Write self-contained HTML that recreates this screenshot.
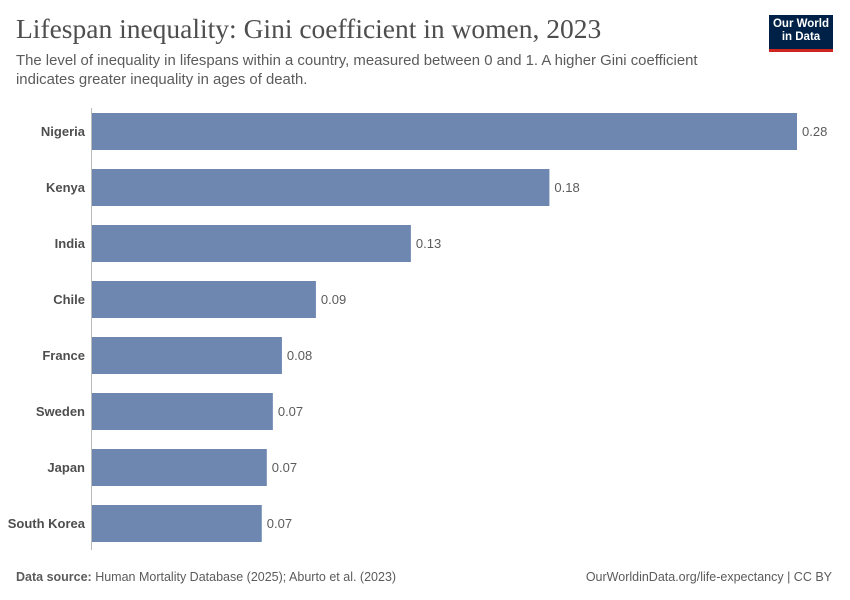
<!DOCTYPE html>
<html><head><meta charset="utf-8"><style>
body{margin:0;width:850px;height:600px;background:#fff;font-family:"Liberation Sans",sans-serif;position:relative;overflow:hidden}
.t{position:absolute;left:16px;top:13px;font-family:"Liberation Serif",serif;font-size:27.5px;color:#4e4e4e}
.s{position:absolute;left:16px;top:52px;font-size:14.9px;color:#5b5b5b;line-height:19px;width:720px}
.logo{position:absolute;left:769px;top:15px;width:64px;height:37px;background:#002147;border-bottom:3px solid #ce261e;color:#fff;font-size:11.5px;font-weight:bold;text-align:center;line-height:13px;padding-top:3px;box-sizing:border-box}
.f{position:absolute;top:570px;font-size:12.5px;color:#5b5b5b}
</style></head><body>
<div class="t">Lifespan inequality: Gini coefficient in women, 2023</div>
<div class="s">The level of inequality in lifespans within a country, measured between 0 and 1. A higher Gini coefficient indicates greater inequality in ages of death.</div>
<div class="logo">Our World<br>in Data</div>
<svg id="c" width="850" height="600" style="position:absolute;left:0;top:0"></svg>
<div class="f" style="left:16px"><b>Data source:</b> Human Mortality Database (2025); Aburto et al. (2023)</div>
<div class="f" style="right:18px">OurWorldinData.org/life-expectancy | CC BY</div>
<script>
const countries=["Nigeria","Kenya","India","Chile","France","Sweden","Japan","South Korea"];
const values=[0.2803,0.182,0.127,0.0893,0.0758,0.0722,0.0698,0.0678];
const labels=["0.28","0.18","0.13","0.09","0.08","0.07","0.07","0.07"];
const svg=document.getElementById('c');const NS="http://www.w3.org/2000/svg";
const x0=91,x1=797,maxV=0.2803;
const xs=v=>x0+(x1-x0)*v/maxV;
const ys=i=>113+56*i;
function mk(t,a){const e=document.createElementNS(NS,t);for(const k in a)e.setAttribute(k,a[k]);svg.appendChild(e);return e;}
countries.forEach((c,i)=>{
const r=mk('rect',{x:x0,y:ys(i),width:xs(values[i])-x0,height:37,fill:'#6d87b1'});


const l=mk('text',{x:85,y:ys(i)+23,'text-anchor':'end','font-size':13,'font-weight':'bold',fill:'#4e4e4e'});l.textContent=c;


const v=mk('text',{x:xs(values[i])+5,y:ys(i)+23,'font-size':13,fill:'#5b5b5b'});v.textContent=labels[i];


});
const ax=mk('line',{x1:x0+0.5,x2:x0+0.5,y1:108,y2:550,stroke:'#bbb'});


</script>
</body></html>
